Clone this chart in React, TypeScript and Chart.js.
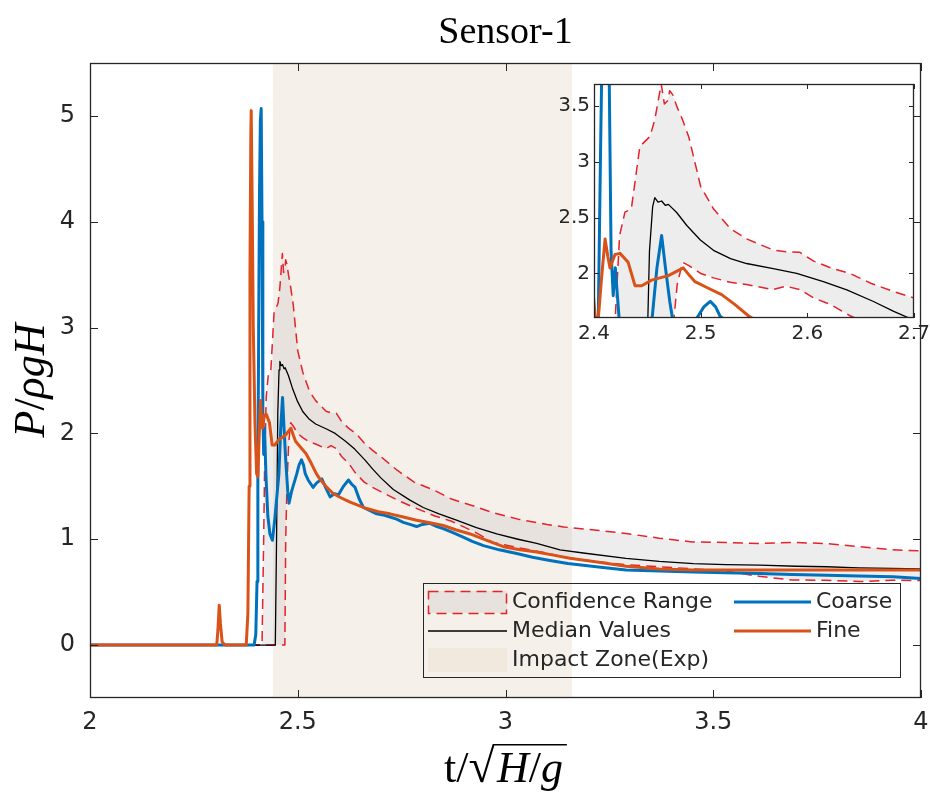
import React, { useEffect, useRef } from 'react';
import { Chart, registerables } from 'chart.js';

Chart.register(...registerables);

// ---------- axis ranges & ticks ----------
const X_RANGE = [2, 4];
const Y_RANGE = [-0.5, 5.5];
const X_TICKS = [2, 2.5, 3, 3.5, 4];
const Y_TICKS = [0, 1, 2, 3, 4, 5];
const INSET_X_RANGE = [2.4, 2.7];
const INSET_Y_RANGE = [1.6, 3.7];
const INSET_X_TICKS = [2.4, 2.5, 2.6, 2.7];
const INSET_Y_TICKS = [2, 2.5, 3, 3.5];

// ---------- data ----------
const IMPACT_ZONE = [2.44, 3.16];

// [t, P]
const coarse = [
  [2.0, 0], [2.3, 0], [2.395, 0], [2.399, 0.1], [2.402, 0.6], [2.404, 1.6], [2.406, 3.0], [2.408, 4.3],
  [2.41, 4.95], [2.412, 5.07], [2.414, 4.0], [2.416, 2.2], [2.418, 1.8], [2.42, 2.05], [2.4235, 1.6],
  [2.428, 1.22], [2.433, 1.05], [2.439, 0.99], [2.445, 1.2], [2.4547, 1.62], [2.459, 2.05], [2.4634, 2.34],
  [2.467, 2.05], [2.471, 1.75], [2.476, 1.45], [2.479, 1.34], [2.485, 1.45], [2.4978, 1.62], [2.503, 1.7],
  [2.509, 1.75], [2.514, 1.7], [2.518, 1.62], [2.525, 1.56], [2.537, 1.49], [2.545, 1.53], [2.558, 1.57],
  [2.568, 1.48], [2.578, 1.4], [2.588, 1.43], [2.598, 1.42], [2.61, 1.5], [2.622, 1.56], [2.63, 1.52],
  [2.638, 1.49], [2.648, 1.38], [2.658, 1.3], [2.674, 1.27], [2.69, 1.24], [2.705, 1.23], [2.722, 1.21],
  [2.738, 1.19], [2.754, 1.16], [2.77, 1.14], [2.786, 1.12], [2.8, 1.14], [2.818, 1.15], [2.835, 1.12],
  [2.85, 1.1], [2.875, 1.06], [2.898, 1.02], [2.92, 0.98], [2.947, 0.94], [2.985, 0.9], [3.027, 0.865],
  [3.065, 0.83], [3.107, 0.8], [3.15, 0.77], [3.187, 0.755], [3.24, 0.73], [3.29, 0.71], [3.37, 0.7],
  [3.452, 0.69], [3.53, 0.683], [3.612, 0.676], [3.69, 0.668], [3.773, 0.66], [3.85, 0.652], [3.933, 0.645],
  [4.0, 0.63],
];

const fine = [
  [2.0, 0], [2.305, 0], [2.308, 0.15], [2.311, 0.377], [2.314, 0.2], [2.318, 0.03], [2.325, 0], [2.376, 0],
  [2.38, 0.3], [2.383, 1.5], [2.385, 3.5], [2.387, 4.8], [2.388, 5.05], [2.39, 4.3], [2.393, 3.0],
  [2.397, 2.1], [2.401, 1.62], [2.404, 1.59], [2.407, 1.95], [2.4104, 2.31], [2.413, 2.15], [2.415, 2.05],
  [2.4197, 2.17], [2.4244, 2.18], [2.432, 2.1], [2.4384, 1.89], [2.4447, 1.89], [2.454, 1.94], [2.4697, 1.98],
  [2.4837, 2.05], [2.49, 1.976], [2.4947, 1.926], [2.5072, 1.867], [2.5197, 1.81], [2.5322, 1.72],
  [2.5447, 1.62], [2.553, 1.57], [2.57, 1.49], [2.586, 1.43], [2.605, 1.39], [2.626, 1.35], [2.646, 1.32],
  [2.666, 1.29], [2.694, 1.26], [2.722, 1.24], [2.754, 1.21], [2.786, 1.18], [2.818, 1.155], [2.85, 1.13],
  [2.88, 1.09], [2.915, 1.05], [2.955, 0.99], [2.995, 0.93], [3.035, 0.9], [3.075, 0.88], [3.115, 0.85],
  [3.155, 0.82], [3.22, 0.785], [3.29, 0.745], [3.37, 0.72], [3.452, 0.71], [3.53, 0.71], [3.612, 0.71],
  [3.69, 0.71], [3.773, 0.71], [3.85, 0.71], [3.93, 0.71], [4.0, 0.71],
];

const median = [
  [2.0, 0], [2.446, 0], [2.449, 1.0], [2.452, 2.2], [2.455, 2.6], [2.457, 2.68], [2.46, 2.64], [2.4634, 2.65],
  [2.467, 2.61], [2.4697, 2.62], [2.4775, 2.547], [2.487, 2.43], [2.4997, 2.3], [2.512, 2.207], [2.528, 2.133],
  [2.543, 2.089], [2.568, 2.044], [2.59, 2.0], [2.615, 1.926], [2.637, 1.852], [2.662, 1.748], [2.681, 1.66],
  [2.7, 1.58], [2.73, 1.47], [2.77, 1.37], [2.802, 1.3], [2.84, 1.24], [2.882, 1.18], [2.93, 1.11],
  [2.979, 1.05], [3.03, 1.0], [3.075, 0.96], [3.131, 0.9], [3.187, 0.87], [3.29, 0.82], [3.37, 0.79],
  [3.452, 0.77], [3.53, 0.76], [3.612, 0.755], [3.7, 0.745], [3.773, 0.74], [3.85, 0.73], [3.93, 0.725],
  [4.0, 0.72],
];

// [t, lower, upper]
const confidence = [
  [2.0, 0, 0], [2.414, 0, 0], [2.418, 0, 1.0], [2.42, 0, 1.62], [2.424, 0, 2.34], [2.429, 0, 2.55],
  [2.435, 0, 2.58], [2.443, 0, 3.14], [2.4525, 0, 3.23], [2.457, 0, 3.38], [2.463, 0, 3.7], [2.466, 0, 3.52],
  [2.469, 0, 3.55], [2.471, 1.0, 3.64], [2.474, 1.5, 3.6], [2.478, 1.9, 3.49], [2.483, 2.1, 3.38],
  [2.489, 2.07, 3.22], [2.5, 2.0, 2.78], [2.512, 1.96, 2.58], [2.528, 1.92, 2.4], [2.543, 1.9, 2.31],
  [2.568, 1.855, 2.21], [2.58, 1.885, 2.195], [2.593, 1.855, 2.19], [2.606, 1.78, 2.11], [2.622, 1.72, 2.05],
  [2.64, 1.62, 2.0], [2.66, 1.54, 1.91], [2.68, 1.49, 1.84], [2.7, 1.45, 1.78], [2.74, 1.37, 1.65],
  [2.78, 1.3, 1.54], [2.83, 1.22, 1.46], [2.87, 1.17, 1.38], [2.93, 1.06, 1.305], [2.97, 0.97, 1.25],
  [3.03, 0.92, 1.19], [3.1, 0.87, 1.14], [3.14, 0.83, 1.116], [3.22, 0.79, 1.085], [3.29, 0.76, 1.054],
  [3.37, 0.74, 1.01], [3.45, 0.72, 0.975], [3.53, 0.7, 0.97], [3.61, 0.65, 0.96], [3.69, 0.615, 0.97],
  [3.77, 0.613, 0.96], [3.85, 0.6, 0.93], [3.93, 0.613, 0.9], [4.0, 0.61, 0.89],
];

// ---------- styles ----------
const AXIS = '#262626';
const BLUE = '#0072BD';
const ORANGE = '#D95319';
const RED = 'rgb(228,34,42)';
const CONF_FILL = 'rgba(200,200,200,0.32)';
const IMPACT_FILL = 'rgba(236,222,208,0.45)';
const SANS = '"DejaVu Sans", sans-serif';
const SERIF = '"Liberation Serif", serif';
const DASH = [10, 6];

const pts = (rows: number[][], col = 1) => rows.map((r) => ({ x: r[0], y: r[col] }));

function buildDatasets(inset: boolean) {
  const ds: any[] = [];
  if (!inset) {
    ds.push({
      label: 'Impact Zone(Exp)',
      data: [{ x: IMPACT_ZONE[0], y: Y_RANGE[1] }, { x: IMPACT_ZONE[1], y: Y_RANGE[1] }],
      borderWidth: 0, borderColor: 'rgba(0,0,0,0)', backgroundColor: IMPACT_FILL,
      fill: 'start', pointRadius: 0, order: 10,
    });
  }
  const upperIndex = ds.length;
  ds.push({
    label: 'Confidence Range', data: pts(confidence, 2), borderColor: RED, borderWidth: 1.5,
    borderDash: DASH, fill: { target: upperIndex + 1 }, backgroundColor: CONF_FILL, pointRadius: 0, order: 9,
  });
  ds.push({
    label: 'Confidence Range (lower)', data: pts(confidence, 1), borderColor: RED, borderWidth: 1.5,
    borderDash: DASH, fill: false, pointRadius: 0, order: 8,
  });
  ds.push({ label: 'Median Values', data: pts(median), borderColor: '#000', borderWidth: 1.3, fill: false, pointRadius: 0, order: 7 });
  ds.push({ label: 'Coarse', data: pts(coarse), borderColor: BLUE, borderWidth: 3, fill: false, pointRadius: 0, order: 6 });
  ds.push({ label: 'Fine', data: pts(fine), borderColor: ORANGE, borderWidth: 3, fill: false, pointRadius: 0, order: 5 });
  return ds;
}

function framePlugin(len: number, whiteBg: boolean) {
  return {
    id: 'frame',
    beforeDraw(chart: any) {
      if (!whiteBg) return;
      const { ctx, chartArea: a } = chart;
      ctx.save();
      ctx.fillStyle = '#fff';
      ctx.fillRect(a.left, a.top, a.right - a.left, a.bottom - a.top);
      ctx.restore();
    },
    afterDatasetsDraw(chart: any) {
      const { ctx, chartArea: a, scales } = chart;
      const xs = scales.x, ys = scales.y;
      ctx.save();
      ctx.strokeStyle = AXIS;
      ctx.lineWidth = 1;
      ctx.beginPath();
      xs.ticks.forEach((t: any) => {
        const px = Math.round(xs.getPixelForValue(t.value)) + 0.5;
        ctx.moveTo(px, a.bottom); ctx.lineTo(px, a.bottom - len);
        ctx.moveTo(px, a.top); ctx.lineTo(px, a.top + len);
      });
      ys.ticks.forEach((t: any) => {
        const py = Math.round(ys.getPixelForValue(t.value)) + 0.5;
        ctx.moveTo(a.left, py); ctx.lineTo(a.left + len, py);
        ctx.moveTo(a.right, py); ctx.lineTo(a.right - len, py);
      });
      ctx.stroke();
      ctx.lineWidth = 1.3;
      ctx.strokeRect(Math.round(a.left) + 0.5, Math.round(a.top) + 0.5, Math.round(a.right - a.left) - 1, Math.round(a.bottom - a.top) - 1);
      ctx.restore();
    },
  };
}

const legendPlugin = {
  id: 'customLegend',
  afterDraw(chart: any) {
    const { ctx, chartArea: a } = chart;
    const bx = a.right - 498, by = a.bottom - 115, bw = 477, bh = 94;
    const c1 = bx + 5, c2 = bx + 311;
    const sw = 79;
    const r1 = by + 19, r2 = by + 48, r3 = by + 77;
    ctx.save();
    ctx.strokeStyle = AXIS; ctx.lineWidth = 1;
    ctx.strokeRect(Math.round(bx) + 0.5, Math.round(by) + 0.5, bw, bh);
    // confidence swatch
    ctx.fillStyle = CONF_FILL;
    ctx.fillRect(c1, r1 - 11, sw, 22);
    ctx.setLineDash(DASH); ctx.strokeStyle = RED; ctx.lineWidth = 1.5;
    ctx.strokeRect(c1 + 0.5, r1 - 11 + 0.5, sw - 1, 22);
    ctx.setLineDash([]);
    // median
    ctx.strokeStyle = '#000'; ctx.lineWidth = 1.3;
    ctx.beginPath(); ctx.moveTo(c1, r2); ctx.lineTo(c1 + sw, r2); ctx.stroke();
    // impact
    ctx.fillStyle = IMPACT_FILL;
    ctx.fillRect(c1, r3 - 12, sw, 24);
    // coarse & fine
    ctx.lineWidth = 3;
    ctx.strokeStyle = BLUE;
    ctx.beginPath(); ctx.moveTo(c2, r1); ctx.lineTo(c2 + 77, r1); ctx.stroke();
    ctx.strokeStyle = ORANGE;
    ctx.beginPath(); ctx.moveTo(c2, r2); ctx.lineTo(c2 + 77, r2); ctx.stroke();
    // texts
    ctx.fillStyle = AXIS;
    ctx.font = `22px ${SANS}`;
    ctx.textAlign = 'left'; ctx.textBaseline = 'middle';
    ctx.fillText('Confidence Range', c1 + sw + 5, r1);
    ctx.fillText('Median Values', c1 + sw + 5, r2);
    ctx.fillText('Impact Zone(Exp)', c1 + sw + 5, r3);
    ctx.fillText('Coarse', c2 + 82, r1);
    ctx.fillText('Fine', c2 + 82, r2);
    ctx.restore();
  },
};

function drawPieces(ctx: CanvasRenderingContext2D, pieces: [string, string][], startX: number, y: number) {
  let x = startX;
  pieces.forEach(([t, f]) => {
    ctx.font = f;
    ctx.fillText(t, x, y);
    x += ctx.measureText(t).width;
  });
  return x;
}

function piecesWidth(ctx: CanvasRenderingContext2D, pieces: [string, string][]) {
  let w = 0;
  pieces.forEach(([t, f]) => { ctx.font = f; w += ctx.measureText(t).width; });
  return w;
}

const labelsPlugin = {
  id: 'axisLabels',
  afterDraw(chart: any) {
    const { ctx, chartArea: a } = chart;
    const cx = (a.left + a.right) / 2;
    ctx.save();
    ctx.fillStyle = '#000';
    ctx.strokeStyle = '#000';
    ctx.textAlign = 'left';
    ctx.textBaseline = 'alphabetic';
    // title
    ctx.font = `38px ${SERIF}`;
    const tw = ctx.measureText('Sensor-1').width;
    ctx.fillText('Sensor-1', cx - tw / 2, 43);

    // x label: t/√(H/g)
    const up = `44px ${SERIF}`;
    const it = `italic 44px ${SERIF}`;
    const head: [string, string][] = [['t', up], ['/', up]];
    const rad: [string, string][] = [['√', `48px ${SERIF}`]];
    const tail: [string, string][] = [['H', it], ['/', up], ['g', it]];
    const total = piecesWidth(ctx, head) + piecesWidth(ctx, rad) + 2 + piecesWidth(ctx, tail) + 4;
    const base = 782;
    let x = cx - total / 2;
    x = drawPieces(ctx, head, x, base);
    ctx.font = `48px ${SERIF}`;
    const m = ctx.measureText('√');
    const radTop = base - (m.actualBoundingBoxAscent || 34);
    x = drawPieces(ctx, rad, x, base);
    const barStart = x - 1;
    x = drawPieces(ctx, tail, x + 2, base) + 4;
    ctx.lineWidth = 1.6;
    ctx.beginPath();
    ctx.moveTo(barStart, radTop + 0.8);
    ctx.lineTo(x, radTop + 0.8);
    ctx.stroke();

    // y label: P/ρgH
    const yl: [string, string][] = [['P', it], ['/', up], ['ρ', it], ['g', it], ['H', it]];
    ctx.translate(44, (a.top + a.bottom) / 2);
    ctx.rotate(-Math.PI / 2);
    const yw = piecesWidth(ctx, yl);
    drawPieces(ctx, yl, -yw / 2, 0);
    ctx.restore();
  },
};

function axisOptions(range: number[], ticks: number[], fontSize: number, padding: number, isX: boolean, fitSize: number) {
  return {
    type: 'linear',
    min: range[0],
    max: range[1],
    afterBuildTicks: (s: any) => { s.ticks = ticks.map((v) => ({ value: v })); },
    afterFit: (s: any) => {
      if (isX) { s.height = fitSize; s.paddingLeft = 0; s.paddingRight = 0; }
      else { s.width = fitSize; s.paddingTop = 0; s.paddingBottom = 0; }
    },
    grid: { display: false, drawTicks: false },
    border: { display: false },
    ticks: {
      font: { family: SANS, size: fontSize },
      color: AXIS,
      padding,
      autoSkip: false,
      maxRotation: 0,
      minRotation: 0,
      callback: (v: any) => String(Number(v)),
    },
  };
}

export default function App() {
  const mainRef = useRef<HTMLCanvasElement>(null);
  const insetRef = useRef<HTMLCanvasElement>(null);

  useEffect(() => {
    const common = {
      responsive: false,
      animation: false,
      events: [],
      elements: { line: { tension: 0, borderJoinStyle: 'round', borderCapStyle: 'butt' }, point: { radius: 0 } },
    };
    const main = new Chart(mainRef.current as HTMLCanvasElement, {
      type: 'line',
      data: { datasets: buildDatasets(false) },
      options: {
        ...common,
        layout: { padding: { left: 0, right: 9, top: 63, bottom: 0 } },
        plugins: { legend: { display: false }, tooltip: { enabled: false }, title: { display: false } },
        scales: {
          x: axisOptions(X_RANGE, X_TICKS, 24, 10, true, 98),
          y: axisOptions(Y_RANGE, Y_TICKS, 24, 15, false, 90),
        },
      } as any,
      plugins: [framePlugin(8, false), legendPlugin, labelsPlugin],
    });
    const inset = new Chart(insetRef.current as HTMLCanvasElement, {
      type: 'line',
      data: { datasets: buildDatasets(true) },
      options: {
        ...common,
        layout: { padding: { left: 0, right: 16, top: 14, bottom: 0 } },
        plugins: { legend: { display: false }, tooltip: { enabled: false }, title: { display: false } },
        scales: {
          x: axisOptions(INSET_X_RANGE, INSET_X_TICKS, 20, 4, true, 42),
          y: axisOptions(INSET_Y_RANGE, INSET_Y_TICKS, 20, 4, false, 34),
        },
      } as any,
      plugins: [framePlugin(5, true)],
    });
    return () => { main.destroy(); inset.destroy(); };
  }, []);

  return (
    <div style={{ position: 'fixed', left: 0, top: 0, width: 930, height: 796, background: '#fff' }}>
      <canvas ref={mainRef} width={930} height={796} style={{ position: 'absolute', left: 0, top: 0, width: 930, height: 796 }} />
      <canvas ref={insetRef} width={370} height={290} style={{ position: 'absolute', left: 560, top: 70, width: 370, height: 290 }} />
    </div>
  );
}
